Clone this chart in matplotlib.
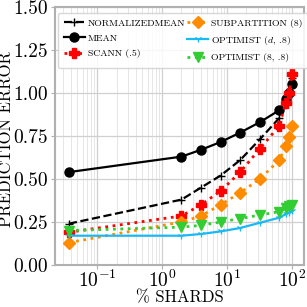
import matplotlib
matplotlib.use("Agg")
import matplotlib.pyplot as plt
from matplotlib.ticker import FormatStrFormatter, LogLocator

shards = [0.037, 2, 4, 8, 16, 32, 64, 80, 90, 100]
normalized_mean = [0.24, 0.38, 0.45, 0.52, 0.61, 0.73, 0.855, 0.95, 1.01, 1.09]
mean = [0.54, 0.63, 0.67, 0.715, 0.77, 0.83, 0.90, 0.965, 1.00, 1.05]
scann = [0.19, 0.285, 0.35, 0.43, 0.54, 0.675, 0.81, 0.94, 1.00, 1.11]
subpartition = [0.13, 0.25, 0.285, 0.35, 0.42, 0.50, 0.61, 0.69, 0.745, 0.81]
optimist_d = [0.17, 0.17, 0.18, 0.195, 0.215, 0.245, 0.275, 0.295, 0.305, 0.315]
optimist_8 = [0.20, 0.22, 0.23, 0.25, 0.27, 0.29, 0.31, 0.33, 0.34, 0.35]

labels = ["NORMALIZEDMEAN", "MEAN", "SCANN (.5)", "SUBPARTITION (8)",
          r"OPTIMIST ($d$, .8)", "OPTIMIST (8, .8)"]
xlabel = "% SHARDS"
ylabel = "PREDICTION ERROR"

plt.rcParams["font.family"] = ["cmr10", "DejaVu Serif"]
plt.rcParams["mathtext.fontset"] = "cm"
plt.rcParams["axes.formatter.use_mathtext"] = True
plt.rcParams["axes.unicode_minus"] = False

fig = plt.figure(figsize=(3.07, 3.07), dpi=100)
ax = fig.add_axes([0.179, 0.137, 0.811, 0.840])

ax.plot(shards, normalized_mean, color="black", ls="--", lw=1.6, marker="+",
        ms=6, mew=1.0, label=labels[0])
ax.plot(shards, mean, color="black", ls="-", lw=1.6, marker="o", ms=6.5,
        label=labels[1])
ax.plot(shards, scann, color="red", ls=":", lw=2.0, marker="P", ms=7.5,
        label=labels[2])
ax.plot(shards, subpartition, color="darkorange", ls=":", lw=2.0, marker="D",
        ms=6.5, label=labels[3])
ax.plot(shards, optimist_d, color="#1ab8f5", ls="-", lw=1.6, marker="1",
        ms=5, label=labels[4])
ax.plot(shards, optimist_8, color="limegreen", ls=":", lw=2.0, marker="v",
        ms=7, label=labels[5])

ax.set_xscale("log")
ax.set_xlim(0.0226, 153)
ax.set_ylim(0.0, 1.5)
ax.set_yticks([0.0, 0.25, 0.5, 0.75, 1.0, 1.25, 1.5])
ax.yaxis.set_major_formatter(FormatStrFormatter("%.2f"))
ax.xaxis.set_major_locator(LogLocator(base=10, numticks=10))
ax.xaxis.set_minor_locator(LogLocator(base=10, subs=range(2, 10), numticks=20))

ax.grid(True, which="major", color="#d0d0d0", lw=0.9)
ax.grid(True, which="minor", axis="x", color="#e6e6e6", lw=0.7)
ax.set_axisbelow(True)
for s in ax.spines.values():
    s.set_color("#b0b0b0")
    s.set_linewidth(1.5)
ax.tick_params(axis="y", which="major", labelsize=14, length=3,
               color="#b0b0b0", pad=2)
ax.tick_params(axis="x", which="major", labelsize=14, length=3,
               color="#b0b0b0", pad=0.5)
ax.tick_params(axis="both", which="minor", length=0)

ax.set_xlabel(xlabel, fontsize=12, va="bottom")
ax.set_ylabel(ylabel, fontsize=12)
ax.xaxis.set_label_coords(0.5, -0.158)
ax.yaxis.set_label_coords(-0.165, 0.49)

leg = ax.legend(loc="upper left", bbox_to_anchor=(0.012, 0.978), ncol=2,
                fontsize=7, frameon=True, handlelength=2.2,
                columnspacing=0.2, handletextpad=0.25, borderaxespad=0.0,
                labelspacing=0.65, borderpad=0.6, fancybox=True,
                framealpha=0.85)
leg.get_frame().set_edgecolor("#d0d0d0")

fig.savefig("out.png", dpi=100)
